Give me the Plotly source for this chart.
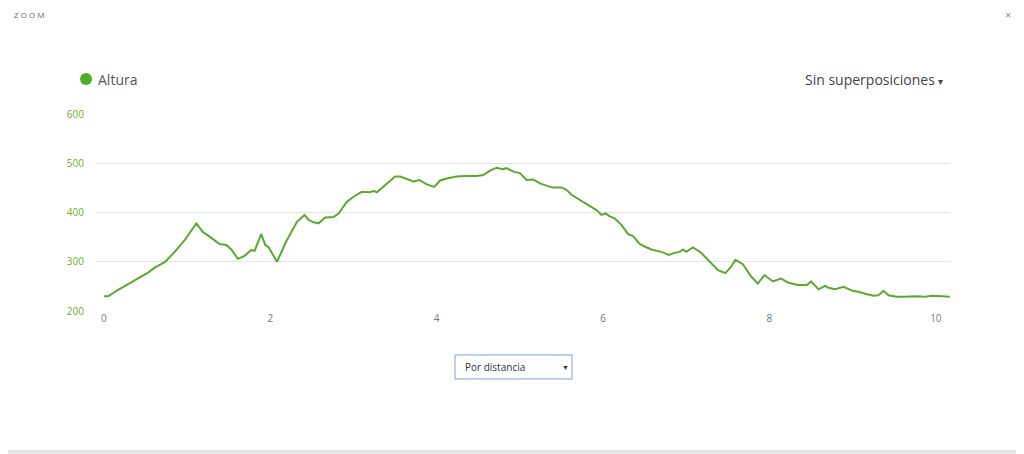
import plotly.graph_objects as go

distance_km = [0.00, 0.05, 0.17, 0.29, 0.41, 0.53, 0.61, 0.73, 0.85, 0.97, 1.11, 1.19, 1.27, 1.39, 1.47,
               1.53, 1.61, 1.69, 1.77, 1.81, 1.89, 1.94, 1.98, 2.08, 2.19, 2.32, 2.41, 2.46, 2.52, 2.58,
               2.66, 2.76, 2.82, 2.92, 3.00, 3.10, 3.20, 3.24, 3.28, 3.40, 3.50, 3.56, 3.64, 3.72, 3.79,
               3.88, 3.97, 4.04, 4.12, 4.24, 4.36, 4.44, 4.48, 4.56, 4.64, 4.72, 4.79, 4.84, 4.92, 5.00,
               5.08, 5.16, 5.24, 5.36, 5.40, 5.50, 5.56, 5.62, 5.74, 5.86, 5.92, 5.98, 6.03, 6.08, 6.14,
               6.22, 6.30, 6.36, 6.44, 6.50, 6.58, 6.70, 6.79, 6.86, 6.92, 6.96, 7.00, 7.08, 7.18, 7.26,
               7.38, 7.47, 7.54, 7.59, 7.68, 7.78, 7.86, 7.94, 8.04, 8.14, 8.22, 8.34, 8.43, 8.45, 8.50,
               8.59, 8.67, 8.71, 8.79, 8.89, 9.00, 9.07, 9.15, 9.25, 9.31, 9.37, 9.43, 9.53, 9.63, 9.75,
               9.87, 9.95, 10.07, 10.17]
altura_m = [230, 230, 243, 255, 266, 278, 288, 299, 320, 344, 378, 360, 351, 336, 334,
            325, 306, 312, 324, 322, 356, 334, 329, 300, 341, 381, 395, 385, 380, 378,
            390, 391, 398, 422, 432, 442, 441, 444, 441, 459, 473, 473, 468, 463, 466,
            457, 452, 465, 469, 473, 474, 473, 474, 476, 485, 491, 488, 490, 483, 480,
            466, 467, 459, 452, 451, 451, 446, 436, 424, 412, 405, 395, 398, 392, 388,
            375, 356, 352, 336, 331, 325, 320, 314, 318, 320, 325, 320, 329, 318, 304,
            283, 277, 290, 304, 295, 270, 256, 273, 260, 266, 258, 253, 254, 253, 260,
            244, 251, 247, 244, 249, 241, 239, 235, 231, 232, 241, 232, 229, 229, 230,
            229, 231, 230, 229]
y_ticks = [200, 300, 400, 500, 600]
x_ticks = [0, 2, 4, 6, 8, 10]

GREEN = "#5da832"

fig = go.Figure()
fig.add_trace(go.Scatter(
    x=distance_km, y=altura_m, mode="lines", name="Altura",
    line=dict(color=GREEN, width=2), showlegend=False,
    hoverinfo="x+y",
))

fig.update_layout(
    width=1016, height=446,
    margin=dict(l=87, r=74, t=106, b=143),
    paper_bgcolor="white", plot_bgcolor="white",
    font=dict(family="Open Sans, sans-serif", color="#555"),
    xaxis=dict(
        range=[-0.108, 10.17], tickvals=x_ticks, showgrid=False, zeroline=False,
        showline=False, ticks="", tickfont=dict(size=10, color="#777"),
        fixedrange=True,
    ),
    yaxis=dict(
        range=[200, 600], tickvals=y_ticks, showgrid=True, gridcolor="#e3e3e3",
        gridwidth=1, zeroline=False, showline=False, ticks="",
        tickfont=dict(size=10, color="#6aae2e"), ticklabelstandoff=10,
        fixedrange=True,
    ),
    shapes=[
        # legend dot
        dict(type="circle", xref="paper", yref="paper",
             x0=-0.0175, x1=-0.0035, y0=(311 - 85) / 197, y1=(311 - 73) / 197,
             fillcolor="#4cae1f", line=dict(width=0)),
        # dropdown box
        dict(type="rect", xref="paper", yref="paper",
             x0=(455 - 95) / 855, x1=(572 - 95) / 855,
             y0=-(379 - 311) / 197, y1=-(355 - 311) / 197,
             line=dict(color="#7f9fd6", width=1), fillcolor="white"),
        # bottom strip
        dict(type="rect", xref="paper", yref="paper",
             x0=-87 / 855, x1=1 + 74 / 855, y0=-143 / 197, y1=-139 / 197,
             line=dict(width=0), fillcolor="#e6e6e6"),
    ],
    annotations=[
        dict(text="Z O O M", xref="paper", yref="paper", x=-83 / 855, y=1 + (114 - 14) / 197,
             xanchor="left", yanchor="middle", showarrow=False,
             font=dict(size=8, color="#666"), ),
        dict(text="×", xref="paper", yref="paper", x=1 + 58 / 855, y=1 + (114 - 15) / 197,
             xanchor="center", yanchor="middle", showarrow=False,
             font=dict(size=11, color="#888")),
        dict(text="Altura", xref="paper", yref="paper", x=1 / 855, y=(311 - 79) / 197,
             xanchor="left", yanchor="middle", showarrow=False,
             font=dict(size=14, color="#555")),
        dict(text="Sin superposiciones <span style='font-size:10px'>▾</span>",
             xref="paper", yref="paper", x=1 - 5 / 855, y=(311 - 79) / 197,
             xanchor="right", yanchor="middle", showarrow=False,
             font=dict(size=14, color="#444")),
        dict(text="Por distancia", xref="paper", yref="paper", x=(463 - 95) / 855,
             y=-(367 - 311) / 197, xanchor="left", yanchor="middle", showarrow=False,
             font=dict(size=10, color="#333")),
        dict(text="▼", xref="paper", yref="paper", x=(565 - 95) / 855,
             y=-(367 - 311) / 197, xanchor="center", yanchor="middle", showarrow=False,
             font=dict(size=7, color="#333")),
    ],
)

fig.write_html("out.html", config={"displayModeBar": False})
